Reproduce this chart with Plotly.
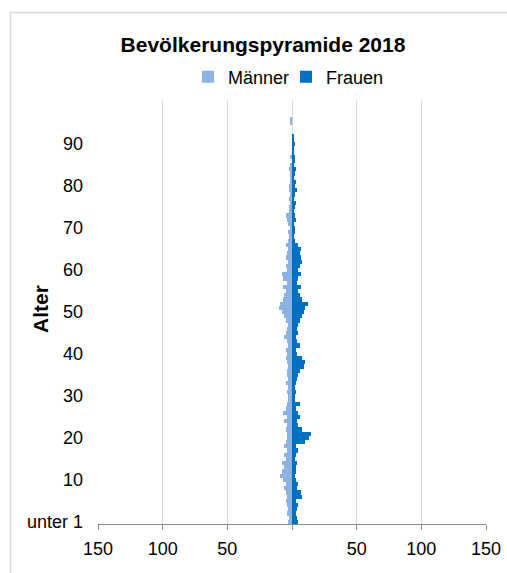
import plotly.graph_objects as go

ages = list(range(0, 101))
men = [3, 2, 4, 3, 4, 5, 4, 5, 6, 5,
       7, 9, 8, 6, 8, 5, 6, 4, 6, 5,
       4, 4, 5, 4, 6, 4, 7, 5, 4, 3,
       3, 4, 3, 5, 3, 4, 4, 3, 4, 5,
       4, 5, 3, 4, 6, 5, 4, 3, 5, 6,
       8, 10, 9, 7, 6, 5, 7, 4, 7, 8,
       4, 5, 3, 5, 4, 3, 5, 3, 2, 3,
       1, 3, 4, 5, 2, 2, 1, 2, 1, 2,
       2, 1, 1, 1, 2, 1, 0, 1, 0, 0,
       0, 0, 0, 0, 0, 1, 1, 0, 0, 0, 0]
women = [5, 4, 3, 4, 5, 3, 8, 7, 4, 5,
         3, 2, 3, 3, 4, 2, 3, 5, 3, 10,
         13, 15, 8, 5, 4, 6, 5, 3, 6, 2,
         2, 3, 2, 3, 4, 5, 6, 9, 10, 8,
         4, 3, 6, 4, 3, 5, 4, 5, 6, 8,
         9, 10, 12, 8, 6, 5, 7, 4, 5, 7,
         5, 6, 8, 7, 6, 7, 5, 2, 1, 2,
         2, 1, 3, 2, 1, 2, 3, 1, 2, 4,
         2, 3, 1, 2, 3, 1, 2, 2, 1, 1,
         2, 1, 1, 0, 0, 0, 0, 0, 0, 0, 0]

y_tickvals = [0, 10, 20, 30, 40, 50, 60, 70, 80, 90]
y_ticktext = ["unter 1", "10", "20", "30", "40", "50", "60", "70", "80", "90"]
x_tickvals = [-150, -100, -50, 0, 50, 100, 150]
x_ticktext = ["150", "100", "50", "", "50", "100", "150"]

FONT = "Liberation Sans, Arial, sans-serif"

W, H = 507, 573
ml, mt = 98, 100
mr = W - 486
mb = H - 524
pw, ph = W - ml - mr, H - mt - mb


def px_x(px):
    return (px - ml) / pw


def px_y(py):
    return (H - mb - py) / ph


fig = go.Figure()
fig.add_trace(go.Bar(
    y=ages, x=[-v for v in men], orientation="h", name="Männer",
    marker=dict(color="#8db3e2", line=dict(width=0)),
))
fig.add_trace(go.Bar(
    y=ages, x=women, orientation="h", name="Frauen",
    marker=dict(color="#0070c0", line=dict(width=0)),
))

fig.update_layout(
    width=W, height=H, autosize=False,
    margin=dict(l=ml, r=mr, t=mt, b=mb, autoexpand=False),
    paper_bgcolor="white", plot_bgcolor="white",
    barmode="relative", bargap=0,
    font=dict(family=FONT, color="#000000", size=18),
    title=dict(text="<b>Bevölkerungspyramide 2018</b>",
               x=263 / W, xref="container", xanchor="center",
               y=1 - 45 / H, yref="container", yanchor="middle",
               font=dict(size=21, family=FONT, color="#000000")),
    legend=dict(orientation="h", x=px_x(286), xanchor="center",
                y=px_y(77), yanchor="middle",
                font=dict(size=18, family=FONT), traceorder="normal",
                itemwidth=30, entrywidth=53, bgcolor="rgba(0,0,0,0)"),
    xaxis=dict(range=[-150, 150], tickvals=x_tickvals, ticktext=x_ticktext,
               automargin=False, ticklabeloverflow="allow",
               showgrid=True, gridcolor="#d9d9d9", gridwidth=1,
               zeroline=False, showline=True, linecolor="#8c8c8c", linewidth=1,
               ticks="outside", ticklen=5, tickcolor="#8c8c8c",
               ticklabelstandoff=3,
               tickfont=dict(size=18, family=FONT)),
    yaxis=dict(range=[-0.5, 100.5], tickvals=y_tickvals, ticktext=y_ticktext,
               automargin=False, ticklabeloverflow="allow",
               showgrid=False, zeroline=False, showline=False, ticks="",
               ticklabelstandoff=14,
               tickfont=dict(size=18, family=FONT)),
    showlegend=True,
)

fig.add_annotation(text="<b>Alter</b>", textangle=-90,
                   xref="paper", yref="paper", x=px_x(40), y=px_y(309),
                   xanchor="center", yanchor="middle", showarrow=False,
                   font=dict(size=21, family=FONT, color="#000000"))

# chart frame: only the left and top edges fall inside the window
fig.add_shape(type="line", xref="paper", yref="paper",
              x0=px_x(10.5), x1=px_x(10.5), y0=px_y(573), y1=px_y(12.5),
              line=dict(color="#d9d9d9", width=1.5), layer="below")
fig.add_shape(type="line", xref="paper", yref="paper",
              x0=px_x(10.5), x1=px_x(507), y0=px_y(12.5), y1=px_y(12.5),
              line=dict(color="#d9d9d9", width=1.5), layer="below")

fig.write_html(
    "out.html",
    config={"responsive": False, "displayModeBar": False},
    post_script="document.body.style.margin='0';document.body.style.overflow='hidden';",
)
